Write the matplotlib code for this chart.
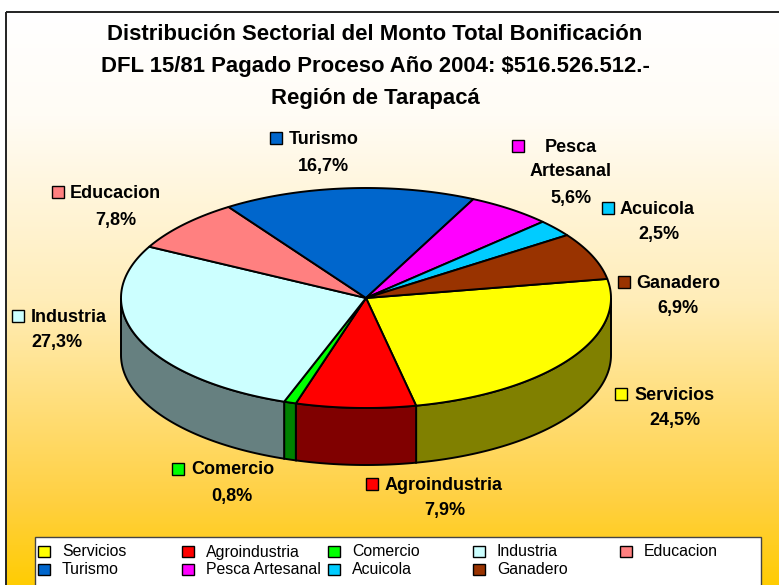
import matplotlib
matplotlib.use("Agg")
import matplotlib.pyplot as plt
from matplotlib.colors import LinearSegmentedColormap
from matplotlib.patches import Polygon, Rectangle
import numpy as np

plt.rcParams['font.family'] = ['Liberation Sans', 'DejaVu Sans']

sectors = ["Servicios", "Agroindustria", "Comercio", "Industria", "Educacion",
           "Turismo", "Pesca Artesanal", "Acuicola", "Ganadero"]
percents = [24.5, 7.9, 0.8, 27.3, 7.8, 16.7, 5.6, 2.5, 6.9]
colors = ["#ffff00", "#ff0000", "#00ff00", "#ccffff", "#ff8080",
          "#0066cc", "#ff00ff", "#00ccff", "#993300"]
side_colors = ["#808000", "#800000", "#008000", "#668080", "#804040",
               "#003366", "#800080", "#006680", "#4d1a00"]
title_lines = ["Distribución Sectorial del Monto Total Bonificación",
               "DFL 15/81 Pagado Proceso Año 2004: $516.526.512.-",
               "Región de Tarapacá"]

W, H = 779, 585
cx, cy = 366, 298
rx, ry = 245, 110
depth = 57
start_angle = 10

fig = plt.figure(figsize=(W / 100, H / 100), dpi=100)
ax = fig.add_axes([0, 0, 1, 1])
ax.set_xlim(0, W)
ax.set_ylim(H, 0)
ax.axis('off')

# background panel with the gradient
cmap = LinearSegmentedColormap.from_list("bg", [(0, "#ffffff"), (0.18, "#fffcf5"), (0.5, "#ffedb8"),
                                                (0.85, "#ffd040"), (1, "#ffcc00")])
panel = ax.imshow(np.linspace(0, 1, 256).reshape(-1, 1), cmap=cmap, aspect='auto',
                  extent=[6, W + 5, H + 5, 12], zorder=0)
ax.set_xlim(0, W)
ax.set_ylim(H, 0)
ax.add_patch(Rectangle((6, 12), W, H, fill=False, ec="#222222", lw=1.4, zorder=1))


def ellipse_pts(a0, a1, offset=0):
    t = np.radians(np.linspace(a0, a1, max(int(abs(a1 - a0)), 2) + 1))
    return np.column_stack([cx + rx * np.cos(t), cy - ry * np.sin(t) + offset])


# slices go clockwise from the start angle
edges = start_angle - np.cumsum([0] + percents) * 3.6

# side wall, only the front half of the disc shows
for i in range(len(percents)):
    a0 = min(edges[i], 0)
    a1 = max(edges[i + 1], -180)
    if a0 <= a1:
        continue
    top = ellipse_pts(a0, a1)
    bottom = ellipse_pts(a1, a0, depth)
    ax.add_patch(Polygon(np.vstack([top, bottom]), closed=True, fc=side_colors[i],
                         ec="black", lw=1.4, zorder=2))

# top face
for i in range(len(percents)):
    arc = ellipse_pts(edges[i], edges[i + 1])
    ax.add_patch(Polygon(np.vstack([[cx, cy], arc]), closed=True, fc=colors[i],
                         ec="black", lw=1.4, joinstyle='round', zorder=3))

for line, y in zip(title_lines, [34.5, 66.5, 98.5]):
    ax.text(375, y, line, ha='center', va='center', fontsize=15.9, fontweight='bold', zorder=5)

# data labels: marker x/y, name x, percent x/y
label_pos = {
    "Turismo": (276, 138, 289, 323, 166),
    "Pesca Artesanal": (518, 146, None, 571, 198),
    "Acuicola": (608, 208, 620, 659, 234),
    "Ganadero": (624, 282, 636, 678, 309),
    "Servicios": (621, 394, 634, 675, 421),
    "Agroindustria": (372, 484, 385, 445, 511),
    "Comercio": (178, 469, 191, 232, 496),
    "Industria": (18, 316, 31, 57, 343),
    "Educacion": (58, 192, 70, 116, 220),
}
for name, pct, col in zip(sectors, percents, colors):
    mx, my, tx, px, py = label_pos[name]
    ax.add_patch(Rectangle((mx - 6, my - 6), 12, 12, fc=col, ec="black", lw=1.0, zorder=5))
    if tx is None:
        ax.text(px, my + 1, "Pesca", ha='center', va='center', fontsize=13, fontweight='bold', zorder=5)
        ax.text(px, my + 25, "Artesanal", ha='center', va='center', fontsize=13, fontweight='bold', zorder=5)
    else:
        ax.text(tx, my + 1, name, ha='left', va='center', fontsize=13, fontweight='bold', zorder=5)
    ax.text(px, py, f"{pct:.1f}%".replace(".", ","), ha='center', va='center',
            fontsize=13, fontweight='bold', zorder=5)

# legend box
ax.add_patch(Rectangle((35, 537), 726, 60, fc="white", ec="#444444", lw=1.0, zorder=5))
col_x = [44, 188, 334, 479, 626]
row_y = [551, 569]
for i, (name, col) in enumerate(zip(sectors, colors)):
    lx = col_x[i % 5]
    ly = row_y[i // 5]
    ax.add_patch(Rectangle((lx - 6, ly - 5.5), 12, 11, fc=col, ec="black", lw=1.0, zorder=6))
    ax.text(lx + 18, ly + 1, name, ha='left', va='center', fontsize=11.4, zorder=6)

fig.savefig("out.png", dpi=100)
